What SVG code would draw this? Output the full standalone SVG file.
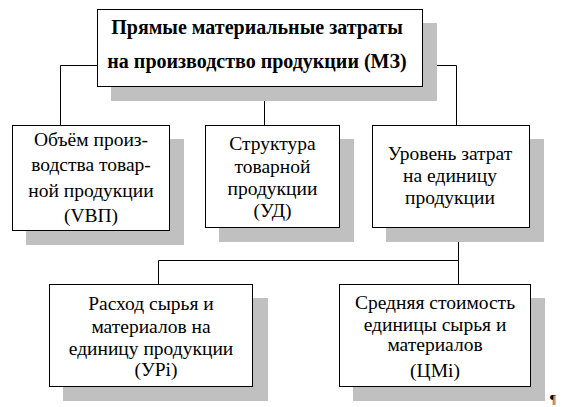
<svg xmlns="http://www.w3.org/2000/svg" width="566" height="407" viewBox="0 0 566 407">
<style>
.sh{fill:#c0c0c0;stroke:none}
.bx{fill:#ffffff;stroke:#000000;stroke-width:1}
.ln{fill:none;stroke:#000000;stroke-width:1}
text{font-family:"Liberation Serif","Times New Roman",serif;font-size:19.5px;fill:#000000;text-anchor:middle}
.b{font-weight:bold;font-size:20px}
</style>
<rect x="0" y="0" width="566" height="407" fill="#ffffff"/>
<g id="connectors">
<path class="ln" d="M97.5,65.5 H60.5 V125"/>
<path class="ln" d="M264.5,87 V125"/>
<path class="ln" d="M422,65.5 H456.5 V125"/>
<path class="ln" d="M458.5,228 V284"/>
<path class="ln" d="M458.5,260.5 H158.5 V284"/>
</g>
<g id="mz">
<rect class="sh" x="111" y="23" width="326" height="78"/>
<rect class="bx" x="97.5" y="9.5" width="325" height="77"/>
<text class="b" x="257" y="34">Прямые материальные затраты</text>
<text class="b" x="257" y="68">на производство продукции (МЗ)</text>
</g>
<g id="vbp">
<rect class="sh" x="26" y="139" width="158" height="106"/>
<rect class="bx" x="12.5" y="125.5" width="157" height="105"/>
<text x="91" y="146">Объём произ-</text>
<text x="91" y="171">водства товар-</text>
<text x="91" y="196.5">ной продукции</text>
<text x="91" y="222">(VBП)</text>
</g>
<g id="ud">
<rect class="sh" x="219" y="139" width="135" height="103"/>
<rect class="bx" x="205.5" y="125.5" width="134" height="102"/>
<text x="272.5" y="150">Структура</text>
<text x="272.5" y="172.5">товарной</text>
<text x="272.5" y="194.5">продукции</text>
<text x="272.5" y="216.5">(УД)</text>
</g>
<g id="level">
<rect class="sh" x="386" y="139" width="158" height="103"/>
<rect class="bx" x="372.5" y="125.5" width="157" height="102"/>
<text x="450" y="159.5">Уровень затрат</text>
<text x="450" y="182">на единицу</text>
<text x="450" y="203.5">продукции</text>
</g>
<g id="upi">
<rect class="sh" x="63" y="298" width="205" height="103"/>
<rect class="bx" x="49.5" y="284.5" width="203" height="102"/>
<text x="151" y="310">Расход сырья и</text>
<text x="151" y="332.5">материалов на</text>
<text x="151" y="354.5">единицу продукции</text>
<text x="156" y="376">(УРi)</text>
</g>
<g id="cmi">
<rect class="sh" x="353" y="298" width="192" height="103"/>
<rect class="bx" x="339.5" y="284.5" width="191" height="102"/>
<text x="435" y="309">Средняя стоимость</text>
<text x="435" y="330.5">единицы сырья и</text>
<text x="435" y="351">материалов</text>
<text x="435" y="377">(ЦМi)</text>
</g>
<text x="553" y="403" style="font-size:13px">¶</text>
</svg>
